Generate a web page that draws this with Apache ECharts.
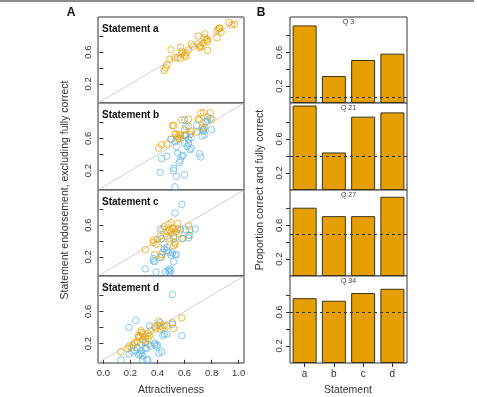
<!DOCTYPE html>
<html>
<head>
<meta charset="utf-8">
<script src="https://cdn.jsdelivr.net/npm/echarts@6/dist/echarts.min.js"></script>
<style>
  html, body { margin:0; padding:0; background:#fff; }
  #chart { width:477px; height:397px; }
</style>
</head>
<body>
<div id="chart"></div>
<script>
// panel A: attractiveness vs endorsement (orange / blue groups)
const statementTitles = ["Statement a", "Statement b", "Statement c", "Statement d"];

const orangeA = [
  [0.45,0.37],[0.46,0.40],[0.47,0.44],[0.49,0.51],[0.50,0.63],[0.53,0.53],[0.57,0.66],[0.57,0.52],
  [0.58,0.58],[0.58,0.61],[0.61,0.54],[0.61,0.59],[0.63,0.63],[0.65,0.70],[0.66,0.67],[0.70,0.70],
  [0.70,0.80],[0.71,0.66],[0.72,0.66],[0.74,0.71],[0.75,0.83],[0.75,0.78],[0.76,0.75],[0.77,0.73],
  [0.77,0.76],[0.77,0.62],[0.84,0.78],[0.84,0.87],[0.85,0.89],[0.86,0.90],[0.86,0.90],[0.87,0.85],
  [0.93,0.97],[0.95,0.94],[0.97,0.95],[0.55,0.53],[0.60,0.56],[0.72,0.68]
];
const blueA = [];

const orangeB = [
  [0.41,0.48],[0.43,0.52],[0.47,0.53],[0.50,0.59],[0.51,0.76],[0.52,0.76],[0.53,0.66],[0.54,0.65],
  [0.55,0.59],[0.55,0.62],[0.56,0.65],[0.57,0.63],[0.58,0.83],[0.60,0.64],[0.60,0.71],[0.61,0.65],
  [0.63,0.84],[0.63,0.75],[0.64,0.65],[0.65,0.69],[0.69,0.68],[0.70,0.84],[0.71,0.83],[0.72,0.92],
  [0.73,0.74],[0.74,0.92],[0.74,0.72],[0.75,0.74],[0.79,0.92],[0.80,0.83],[0.77,0.87],[0.56,0.60]
];
const blueB = [
  [0.42,0.18],[0.43,0.35],[0.47,0.38],[0.50,0.59],[0.52,0.23],[0.52,0.20],[0.53,0.00],[0.54,0.13],
  [0.54,0.50],[0.55,0.42],[0.56,0.30],[0.57,0.33],[0.58,0.38],[0.59,0.39],[0.60,0.15],[0.60,0.54],
  [0.61,0.63],[0.61,0.75],[0.62,0.50],[0.63,0.59],[0.63,0.54],[0.64,0.46],[0.65,0.61],[0.65,0.48],
  [0.69,0.76],[0.71,0.41],[0.72,0.37],[0.73,0.63],[0.74,0.69],[0.74,0.71],[0.75,0.65],[0.76,0.81],
  [0.77,0.83],[0.79,0.85],[0.80,0.71],[0.53,0.56],[0.60,0.83]
];

const orangeC = [
  [0.31,0.29],[0.37,0.41],[0.37,0.38],[0.38,0.23],[0.39,0.36],[0.40,0.42],[0.42,0.46],[0.43,0.20],
  [0.43,0.23],[0.44,0.55],[0.45,0.58],[0.47,0.52],[0.47,0.46],[0.48,0.61],[0.49,0.54],[0.50,0.51],
  [0.50,0.63],[0.51,0.56],[0.52,0.55],[0.52,0.34],[0.53,0.36],[0.53,0.38],[0.54,0.52],[0.55,0.62],
  [0.55,0.55],[0.56,0.49],[0.58,0.43],[0.63,0.59],[0.64,0.54],[0.63,0.47],[0.52,0.46],[0.49,0.43],
  [0.45,0.36]
];
const blueC = [
  [0.31,0.05],[0.37,0.18],[0.37,0.15],[0.38,0.14],[0.39,0.01],[0.42,0.55],[0.43,0.43],[0.44,0.26],
  [0.45,0.30],[0.46,0.01],[0.47,0.28],[0.47,0.32],[0.48,0.03],[0.49,0.05],[0.49,0.01],[0.50,0.03],
  [0.50,0.22],[0.51,0.25],[0.52,0.43],[0.52,0.14],[0.53,0.23],[0.54,0.23],[0.53,0.75],[0.58,0.86],
  [0.57,0.54],[0.59,0.43],[0.61,0.54],[0.63,0.44],[0.64,0.47],[0.68,0.55],[0.48,0.26],[0.42,0.19]
];

const orangeD = [
  [0.13,0.10],[0.18,0.14],[0.19,0.17],[0.21,0.15],[0.22,0.18],[0.23,0.21],[0.25,0.22],[0.26,0.28],
  [0.26,0.30],[0.27,0.29],[0.28,0.34],[0.28,0.36],[0.29,0.25],[0.29,0.32],[0.31,0.28],[0.31,0.23],
  [0.33,0.33],[0.33,0.26],[0.34,0.30],[0.35,0.36],[0.38,0.41],[0.39,0.39],[0.40,0.43],[0.41,0.48],
  [0.42,0.38],[0.42,0.42],[0.44,0.40],[0.45,0.43],[0.47,0.42],[0.51,0.46],[0.52,0.39],[0.58,0.52],
  [0.33,0.19],[0.28,0.19]
];
const blueD = [
  [0.13,0.00],[0.19,0.07],[0.19,0.40],[0.21,0.10],[0.24,0.49],[0.25,0.15],[0.26,0.06],[0.27,0.07],
  [0.28,0.08],[0.28,0.11],[0.29,0.05],[0.29,0.00],[0.31,0.15],[0.32,0.14],[0.33,0.00],[0.34,0.42],
  [0.35,0.17],[0.38,0.21],[0.38,0.19],[0.39,0.17],[0.40,0.18],[0.41,0.08],[0.42,0.46],[0.43,0.10],
  [0.44,0.30],[0.45,0.32],[0.47,0.32],[0.51,0.81],[0.51,0.44],[0.58,0.30],[0.31,0.21],[0.23,0.12],
  [0.32,0.00]
];

const orangePts = [orangeA, orangeB, orangeC, orangeD];
const bluePts = [blueA, blueB, blueC, blueD];
const diagonal = [[-0.04,-0.04],[1.04,1.04]];

// panel B: proportion correct per question
const questions = ["Q 3", "Q 21", "Q 27", "Q 34"];
const statements = ["a", "b", "c", "d"];
const q3 = [0.92, 0.32, 0.51, 0.585];
const q21 = [0.99, 0.44, 0.86, 0.91];
const q27 = [0.81, 0.71, 0.71, 0.94];
const q34 = [0.76, 0.73, 0.82, 0.87];
const barValues = [q3, q21, q27, q34];
const chanceLevels = [0.07, 0.40, 0.49, 0.60];

const yTicks = [0.2, 0.4, 0.6, 0.8];
const yLabels = [0.2, 0.6];
const xTicks = [0, 0.2, 0.4, 0.6, 0.8, 1.0];

const ORANGE = "#E69F00", BLUE = "#56B4E9";
const FONT = "Liberation Sans";
const panelTops = [17, 103, 190, 276];
const panelHeights = [86, 87, 86, 87];

const grids = [], xAxes = [], yAxes = [], series = [], graphics = [];

panelTops.forEach((top, i) => {
  grids.push({left:98, width:146, top:top, height:panelHeights[i], show:true,
    borderColor:"#333", borderWidth:1, backgroundColor:"#fff"});
});
panelTops.forEach((top, i) => {
  grids.push({left:290, width:117, top:top, height:panelHeights[i], show:true,
    borderColor:"#333", borderWidth:1, backgroundColor:"#fff"});
});

const axisLabelStyle = {color:"#333", fontSize:9.5, fontFamily:FONT};

for(let i=0;i<4;i++){
  const last = i===3;
  xAxes.push({
    type:"value", gridIndex:i, min:-0.04, max:1.04,
    axisLine:{show:false}, splitLine:{show:false},
    axisTick:{show:last, length:4, lineStyle:{color:"#333"}, customValues:xTicks},
    axisLabel:{show:last, margin:5, customValues:xTicks, formatter:v => v.toFixed(1), ...axisLabelStyle}
  });
  yAxes.push({
    type:"value", gridIndex:i, min:-0.04, max:1.04,
    axisLine:{show:false}, splitLine:{show:false},
    axisTick:{show:true, length:4, lineStyle:{color:"#333"}, customValues:yTicks},
    axisLabel:{show:true, rotate:90, margin:5, customValues:yLabels, formatter:v => v.toFixed(1), ...axisLabelStyle}
  });
  series.push({type:"line", xAxisIndex:i, yAxisIndex:i, data:diagonal, symbol:"none", silent:true,
    lineStyle:{color:"#c4c4c4", width:0.8}, z:1});
  series.push({type:"scatter", xAxisIndex:i, yAxisIndex:i, data:orangePts[i], symbol:"circle", symbolSize:6.5,
    itemStyle:{color:"rgba(0,0,0,0)", borderColor:ORANGE, borderWidth:0.9}, z:2});
  series.push({type:"scatter", xAxisIndex:i, yAxisIndex:i, data:bluePts[i], symbol:"circle", symbolSize:6.5,
    itemStyle:{color:"rgba(0,0,0,0)", borderColor:BLUE, borderWidth:0.9}, z:3});
  graphics.push({type:"text", x:102, y:panelTops[i]+12, z:10,
    style:{text:statementTitles[i], font:`bold 10px "${FONT}"`, fill:"#111", align:"left", verticalAlign:"middle"}});
}

for(let i=0;i<4;i++){
  const g = 4+i, last = i===3;
  xAxes.push({
    type:"category", gridIndex:g, data:statements,
    axisLine:{show:false}, splitLine:{show:false},
    axisTick:{show:last, alignWithLabel:true, length:4, lineStyle:{color:"#333"}},
    axisLabel:{show:last, margin:6, ...axisLabelStyle, fontSize:10}
  });
  yAxes.push({
    type:"value", gridIndex:g, min:0, max:1.02,
    axisLine:{show:false}, splitLine:{show:false},
    axisTick:{show:true, length:4, lineStyle:{color:"#333"}, customValues:yTicks},
    axisLabel:{show:true, rotate:90, margin:6, customValues:yLabels, formatter:v => v.toFixed(1), ...axisLabelStyle}
  });
  series.push({type:"bar", xAxisIndex:g, yAxisIndex:g, data:barValues[i], barWidth:24,
    itemStyle:{color:ORANGE, borderColor:"#3b3318", borderWidth:1},
    markLine:{silent:true, symbol:"none", label:{show:false},
      lineStyle:{color:"#333", type:[3,3], width:1},
      data:[{yAxis:chanceLevels[i]}]}});
  graphics.push({type:"text", x:348.5, y:panelTops[i]+5.5, z:10,
    style:{text:questions[i], font:`7px "${FONT}"`, fill:"#444", align:"center", verticalAlign:"middle"}});
}

graphics.push(
  {type:"line", shape:{x1:0, y1:1, x2:474, y2:1}, style:{stroke:"#666", lineWidth:1.5}},
  {type:"text", x:71, y:13, style:{text:"A", font:`bold 12px "${FONT}"`, fill:"#111", align:"center", verticalAlign:"middle"}},
  {type:"text", x:261, y:13, style:{text:"B", font:`bold 12px "${FONT}"`, fill:"#111", align:"center", verticalAlign:"middle"}},
  {type:"text", x:65, y:190, rotation:Math.PI/2,
    style:{text:"Statement endorsement, excluding fully correct", font:`10.5px "${FONT}"`, fill:"#333", align:"center", verticalAlign:"middle"}},
  {type:"text", x:260, y:190, rotation:Math.PI/2,
    style:{text:"Proportion correct and fully correct", font:`10.5px "${FONT}"`, fill:"#333", align:"center", verticalAlign:"middle"}},
  {type:"text", x:171, y:390, style:{text:"Attractiveness", font:`10.5px "${FONT}"`, fill:"#333", align:"center", verticalAlign:"middle"}},
  {type:"text", x:348, y:390, style:{text:"Statement", font:`10.5px "${FONT}"`, fill:"#333", align:"center", verticalAlign:"middle"}}
);

const chart = echarts.init(document.getElementById("chart"));
chart.setOption({
  animation:false,
  backgroundColor:"#fff",
  grid:grids, xAxis:xAxes, yAxis:yAxes, series:series, graphic:graphics
});
</script>
</body>
</html>
